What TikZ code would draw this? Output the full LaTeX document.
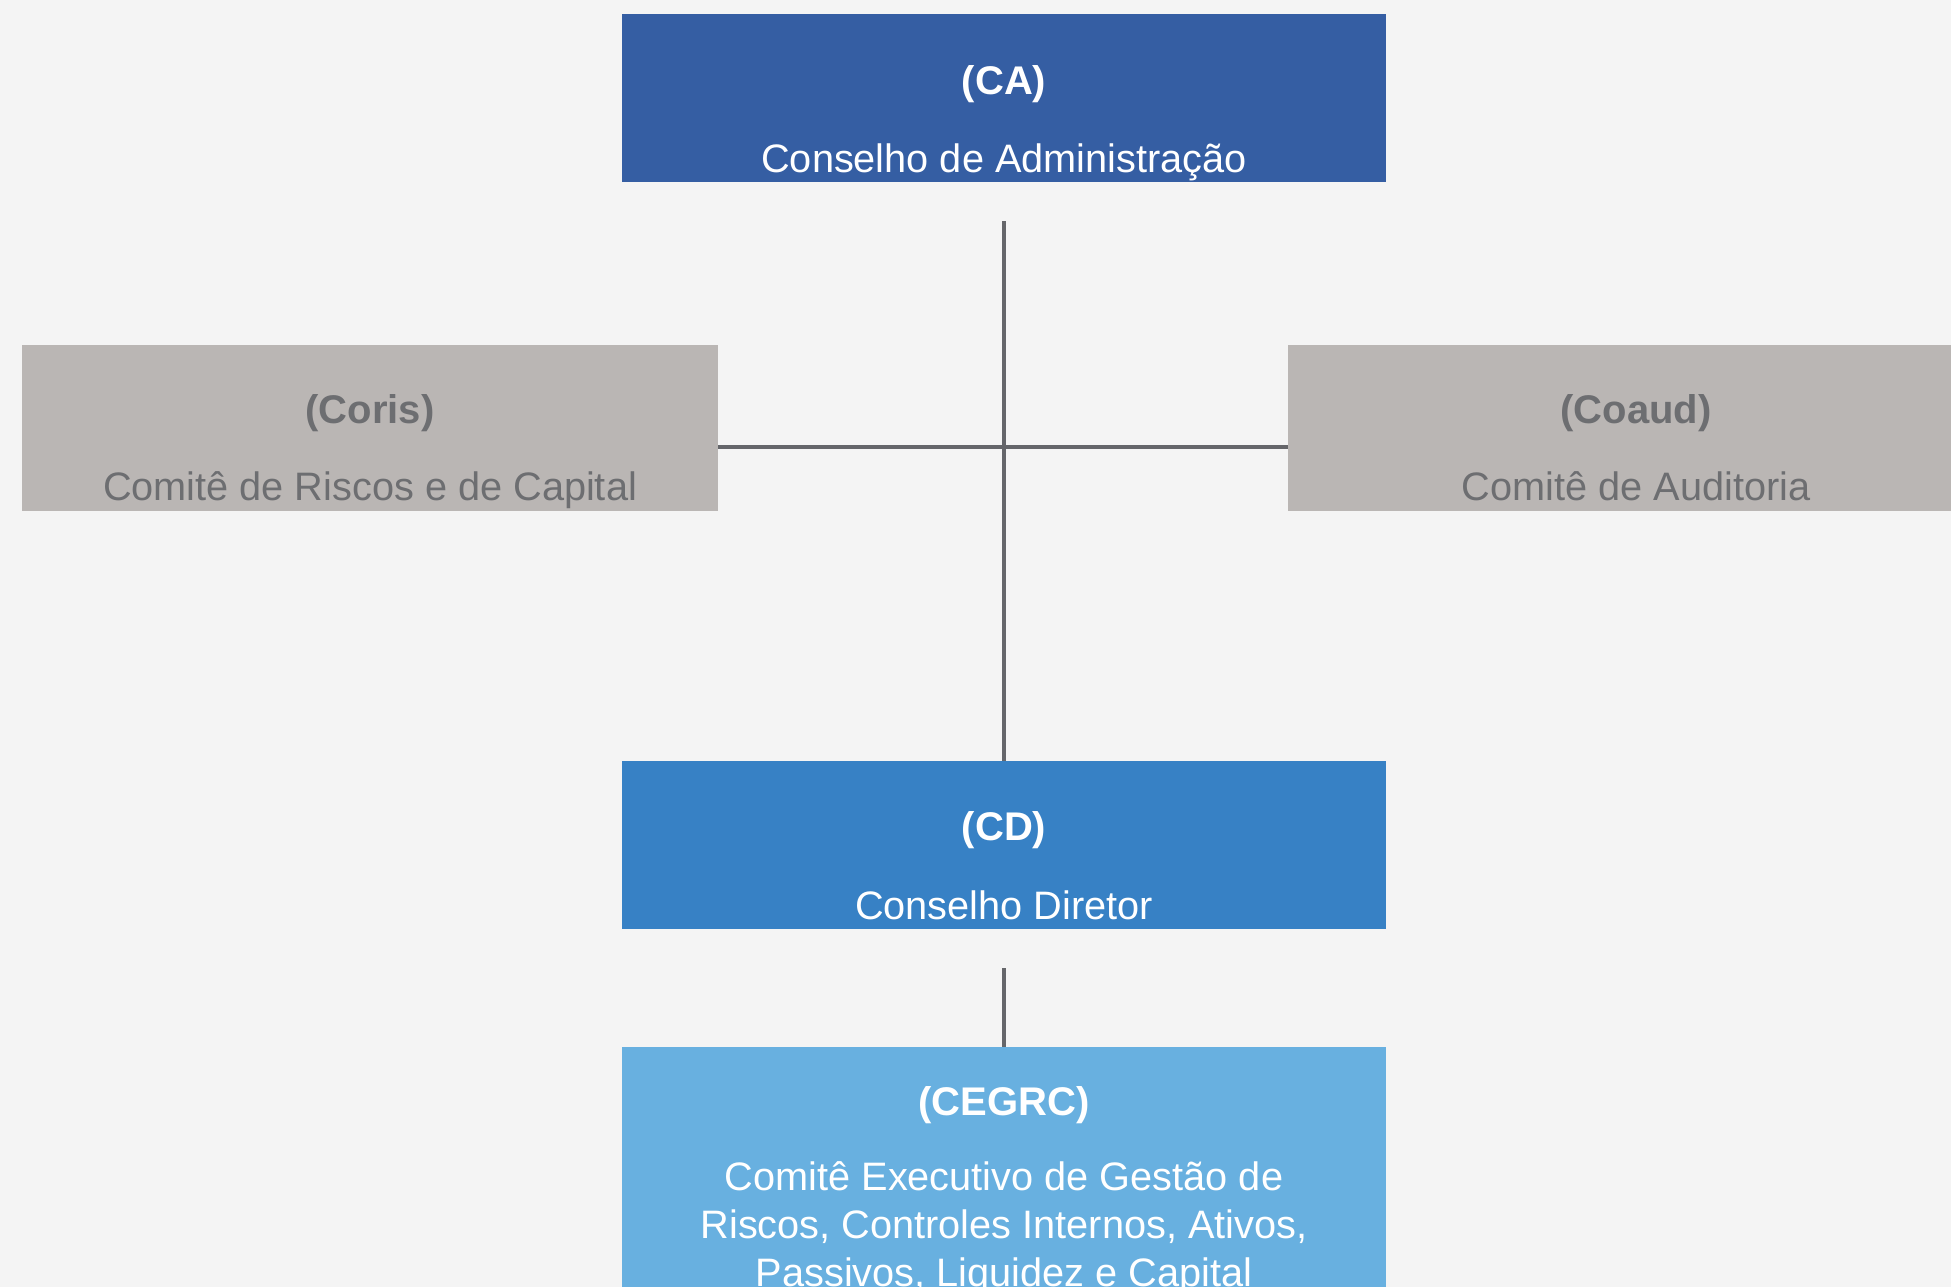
\documentclass[tikz,border=0pt]{standalone}
\usepackage{fontspec}
\setmainfont{Liberation Sans}
\definecolor{bg}{HTML}{F4F4F4}
\definecolor{caBlue}{HTML}{355EA3}
\definecolor{cdBlue}{HTML}{3781C5}
\definecolor{ceBlue}{HTML}{68B0E0}
\definecolor{grayBox}{HTML}{BAB6B4}
\definecolor{grayText}{HTML}{6D6E71}
\definecolor{lineGray}{HTML}{65666A}
\begin{document}
\begin{tikzpicture}[x=1pt,y=-1pt,
  box/.style={rectangle, inner sep=0pt, outer sep=0pt, anchor=north west},
  bigbox/.style={box, minimum width=764pt, minimum height=168pt},
  sidebox/.style={box, fill=grayBox, minimum width=696pt, minimum height=166pt},
  titletext/.style={font=\fontsize{40}{46}\selectfont\bfseries, anchor=base, inner sep=0pt},
  labeltext/.style={font=\fontsize{39.7}{48}\selectfont, anchor=base, inner sep=0pt},
  conn/.style={draw=lineGray, line width=3.5pt}]
\fill[bg] (0,0) rectangle (1951,1287);
\useasboundingbox (0,0) rectangle (1951,1287);
\clip (0,0) rectangle (1951,1287);

% boxes
\node[bigbox, fill=caBlue] (ca) at (622,14) {};
\node[sidebox] (coris) at (22,345) {};
\node[sidebox] (coaud) at (1288,345) {};
\node[bigbox, fill=cdBlue] (cd) at (622,761) {};
\node[box, fill=ceBlue, minimum width=764pt, minimum height=300pt] (cegrc) at (622,1047) {};

% texts
\node[titletext, white] (catitle) at (1004,95) {(CA)};
\node[labeltext, white] (calabel) at (1004,172) {Conselho de Administração};

\node[titletext, grayText] (coristitle) at (370,423) {(Coris)};
\node[labeltext, grayText] (corislabel) at (370,500) {Comitê de Riscos e de Capital};

\node[titletext, grayText] (coaudtitle) at (1636,423) {(Coaud)};
\node[labeltext, grayText] (coaudlabel) at (1636,500) {Comitê de Auditoria};

\node[titletext, white] (cdtitle) at (1004,840) {(CD)};
\node[labeltext, white] (cdlabel) at (1004,919) {Conselho Diretor};

\node[titletext, white] (cegrctitle) at (1004,1115) {(CEGRC)};
\node[labeltext, white] (cegrclabela) at (1004,1190) {Comitê Executivo de Gestão de};
\node[labeltext, white] (cegrclabelb) at (1004,1238) {Riscos, Controles Internos, Ativos,};
\node[labeltext, white] (cegrclabelc) at (1004,1286) {Passivos, Liquidez e Capital};

% connectors
\coordinate (vtop) at (1004,221);
\coordinate (hleft) at (718,447);
\coordinate (hright) at (1288,447);
\coordinate (cdlow) at (1004,968);
\draw[conn] (vtop) -- (cd.north);
\draw[conn] (hleft) -- (hright);
\draw[conn] (cdlow) -- (cegrc.north);
\end{tikzpicture}
\end{document}
